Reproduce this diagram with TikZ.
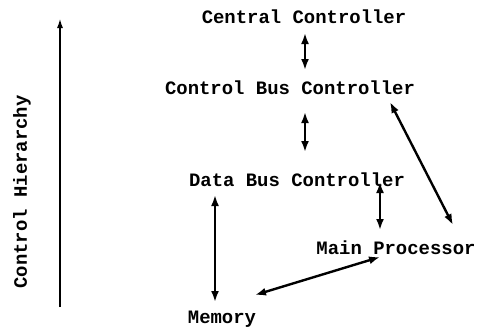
\documentclass[tikz,border=0pt]{standalone}
\usepackage{fontspec}
\setmonofont{Liberation Mono}
\usetikzlibrary{arrows.meta,calc}
\begin{document}
\begin{tikzpicture}[x=1bp,y=-1bp,
  label/.style={font=\ttfamily\bfseries\fontsize{19}{19}\selectfont, inner sep=0pt},
  link/.style={line width=2.4bp, {Latex[length=11bp,width=8bp]}-{Latex[length=11bp,width=8bp]}},
  up/.style={line width=2bp, -{Latex[length=10bp,width=6bp]}}]
\useasboundingbox (0,0) rectangle (478,329);
% hierarchy levels
\node[label] (cc)  at (304,17)  {Central Controller};
\node[label] (cbc) at (290,88)  {Control Bus Controller};
\node[label] (dbc) at (297,180) {Data Bus Controller};
\node[label] (mp)  at (396,248) {Main Processor};
\node[label] (mem) at (222,319) {Memory};
% side axis
\coordinate (axisbot) at (60,307);
\coordinate (axistop) at (60,18);
\draw[up] (axisbot) -- (axistop);
\node[label, rotate=90] (axis) at (22,192) {Control Hierarchy};
% connections
\draw[link] ($(cc)+(1,16)$) -- ($(cbc)+(15,-18)$);
\draw[link] ($(cbc)+(15,24)$) -- ($(dbc)+(8,-28)$);
\draw[link] ($(dbc)+(-82,15)$) -- ($(mem)+(-7,-17)$);
\draw[link] ($(dbc)+(83,2)$) -- ($(mp)+(-16,-18)$);
\draw[link] ($(mp)+(-16,9)$) -- ($(mem)+(33,-24)$);
\draw[link] ($(cbc)+(100,14)$) -- ($(mp)+(57,-23)$);
\end{tikzpicture}
\end{document}
